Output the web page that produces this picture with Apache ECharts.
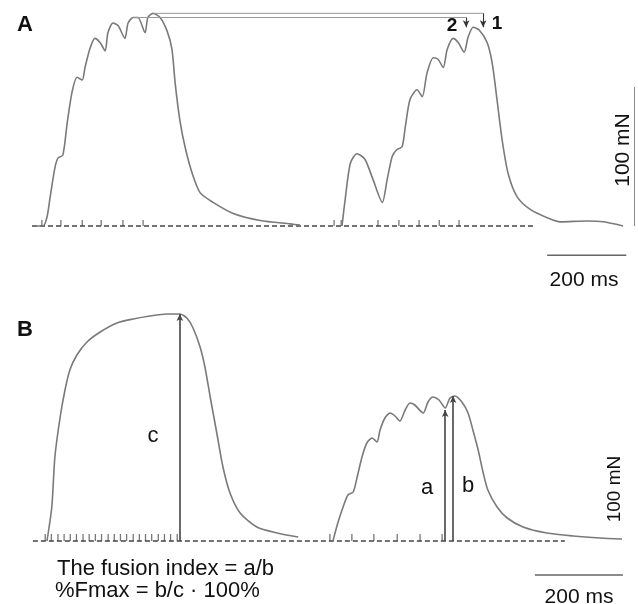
<!DOCTYPE html>
<html>
<head>
<meta charset="utf-8">
<script src="https://cdn.jsdelivr.net/npm/echarts@6/dist/echarts.min.js"></script>
<style>
html, body { margin: 0; padding: 0; background: #fff; }
#chart { width: 638px; height: 604px; }
</style>
</head>
<body>
<div id="chart"></div>
<script>
// ---- panel A : two subtetanic trains, [ms, mN] ----
var traceA1 = [[0,0],[28,0],[38,6.5],[46,21],[58,42],[66,49],[78,51],[89,74],[101,96],[114,107],[127,105],
	[134,114],[147,128],[159,135],[172,132],[185,126],[192,139],[205,146],[218,144],[235,135],[243,146],
	[256,150],[268,150],[286,139],[293,150],[306,153],[324,150],[342,140],[354,127],[362,103],[374,76],
	[387,57],[405,38],[425,24],[458,17],[509,9],[577,4],[653,1.5],[678,0.7]];
var traceA2 = [[784,0],[792,19],[805,45],[822,52],[842,48],[863,33],[886,17],[898,33],[911,50],[923,55],
	[936,57],[944,71],[956,91],[974,98],[987,93],[999,110],[1015,121],[1027,120],[1040,114],[1050,127],
	[1065,135],[1078,132],[1093,125],[1103,136],[1116,143],[1131,141],[1151,132],[1164,117],[1176,91],
	[1189,62],[1204,38],[1227,21],[1260,12],[1303,6],[1336,3],[1404,3.6],[1445,3],[1495,0]];
var stimA = [25, 73, 127, 175, 230, 281, 764, 782, 875, 928, 979, 1030, 1080];
var baselineA = [0, 1267];
var peakLine1 = [[306,153],[1141,153]];
var peakLine2 = [[256,150],[1098,150]];
var arrowsA = [[1141,153,143],[1098,150,143]];
var scaleA = { ms: [1303, 1503], msAt: -21, mN: [0, 100], mNAt: 1525 };

// ---- panel B : tetanus and subtetanic train, [ms, mN] ----
var traceB1 = [[34,0],[45,34],[52,84],[64,124],[75,151],[86,171],[102,186],[125,199],[155,209],[193,218],
	[230,222],[268,225],[307,227],[336,227],[352,223],[366,213],[382,194],[393,174],[405,144],[420,108],
	[434,74],[450,48],[473,28],[511,14],[557,8],[605,4]];
var traceB2 = [[684,0],[695,18],[707,34],[718,46],[730,49],[739,64],[750,84],[761,98],[773,103],[784,99],
	[791,111],[802,123],[814,128],[825,125],[836,120],[848,131],[859,138],[870,136],[889,128],[900,139],
	[911,144],[925,141],[939,133],[950,143],[961,145],[977,139],[991,128],[1002,111],[1014,91],[1025,69],
	[1036,51],[1057,34],[1080,23],[1116,14],[1170,8],[1230,5],[1291,3],[1341,2]];
var stimB = [30, 44, 59, 73, 87, 101, 116, 130, 144, 158, 173, 187, 201, 215, 230, 244, 258, 272, 287, 301,
	315, 330, 677, 727, 777, 830, 882, 932];
var baselineB = [2, 1211];
var arrowsB = [[336,0,227],[939,0,131],[957,0,145]];
var scaleB = { ms: [1143, 1343], msAt: -34, mN: [-7, 96], mNAt: 1370 };

var traceColor = '#7a7a7a';
var font = 'Liberation Sans, Arial, sans-serif';

var chart = echarts.init(document.getElementById('chart'));

function trace(data, g) {
	return {
		type: 'line', xAxisIndex: g, yAxisIndex: g, data: data, symbol: 'none',
		smooth: 0.25, clip: false,
		lineStyle: { color: traceColor, width: 1.6 }
	};
}
function plain(data, g, style) {
	return {
		type: 'line', xAxisIndex: g, yAxisIndex: g, data: data, symbol: 'none', clip: false,
		lineStyle: style
	};
}
function arrows(list, g, color, width) {
	return {
		type: 'line', xAxisIndex: g, yAxisIndex: g, data: [], symbol: 'none',
		markLine: {
			silent: true, animation: false,
			symbol: ['none', 'arrow'], symbolSize: [5, 7],
			label: { show: false },
			lineStyle: { color: color, width: width, type: 'solid' },
			data: list.map(function(a) { return [{ coord: [a[0], a[1]] }, { coord: [a[0], a[2]] }]; })
		}
	};
}
function ticks(list, g, h) {
	return {
		type: 'scatter', xAxisIndex: g, yAxisIndex: g, clip: false,
		data: list.map(function(t) { return [t, 0]; }),
		symbol: 'rect', symbolSize: [1.3, h], symbolOffset: [0, -h / 2],
		itemStyle: { color: '#555' }
	};
}
function bars(s, g) {
	return [
		plain([[s.ms[0], s.msAt], [s.ms[1], s.msAt]], g, { color: '#666', width: 1.5 }),
		plain([[s.mNAt, s.mN[0]], [s.mNAt, s.mN[1]]], g, { color: '#666', width: 1.5 })
	];
}
function text(str, x, y, size, opts) {
	opts = opts || {};
	return {
		type: 'text', x: x, y: y, rotation: opts.rot || 0, silent: true,
		style: {
			text: str, x: 0, y: 0, fill: '#111',
			font: (opts.bold ? 'bold ' : '') + size + 'px ' + font,
			align: opts.align || 'center', verticalAlign: 'middle'
		}
	};
}

var dash = { color: '#444', width: 1.3, type: [5, 3] };

chart.setOption({
	animation: false,
	grid: [
		{ left: 32, top: 3.6, width: 601, height: 222.4 },
		{ left: 32, top: 301, width: 594, height: 240 }
	],
	xAxis: [
		{ type: 'value', gridIndex: 0, min: 0, max: 1520, show: false },
		{ type: 'value', gridIndex: 1, min: 0, max: 1350, show: false }
	],
	yAxis: [
		{ type: 'value', gridIndex: 0, min: 0, max: 160, show: false },
		{ type: 'value', gridIndex: 1, min: 0, max: 240, show: false }
	],
	series: [
		plain([[baselineA[0], 0], [baselineA[1], 0]], 0, dash),
		ticks(stimA, 0, 6),
		trace(traceA1, 0),
		trace(traceA2, 0),
		plain(peakLine1, 0, { color: '#999', width: 1 }),
		plain(peakLine2, 0, { color: '#999', width: 1 }),
		arrows(arrowsA, 0, '#333', 1.1),

		plain([[baselineB[0], 0], [baselineB[1], 0]], 1, dash),
		ticks(stimB, 1, 7),
		trace(traceB1, 1),
		trace(traceB2, 1),
		arrows(arrowsB, 1, '#444', 1.6)
	].concat(bars(scaleA, 0), bars(scaleB, 1)),
	graphic: [
		text('A', 17, 25, 22, { bold: true, align: 'left' }),
		text('2', 452, 25.5, 19, { bold: true }),
		text('1', 497, 23.5, 19, { bold: true }),
		text('200 ms', 584, 280, 21),
		text('100 mN', 623, 150, 21, { rot: Math.PI / 2 }),
		text('B', 17, 330, 22, { bold: true, align: 'left' }),
		text('c', 153, 436, 22),
		text('a', 427, 488, 22),
		text('b', 468, 486, 22),
		text('100 mN', 615, 489, 19, { rot: Math.PI / 2 }),
		text('200 ms', 579, 597, 21),
		text('The fusion index = a/b', 57, 569, 22, { align: 'left' }),
		text('%Fmax = b/c \u00b7 100%', 55, 591, 22, { align: 'left' })
	]
});
</script>
</body>
</html>
